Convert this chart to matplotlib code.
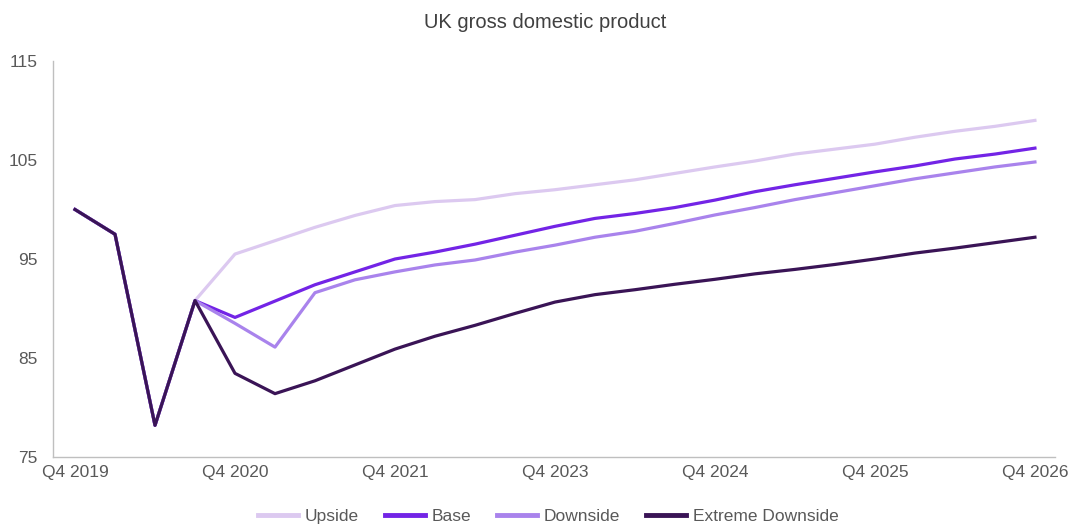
import matplotlib
matplotlib.use("Agg")
import matplotlib.pyplot as plt

plt.rcParams['font.family'] = ['Liberation Sans', 'DejaVu Sans']

# Quarter index positions (Q4 2019 ... forecast horizon), labelled every 4th quarter
tick_labels = ["Q4 2019", "Q4 2020", "Q4 2021", "Q4 2023", "Q4 2024", "Q4 2025", "Q4 2026"]

upside = [100.0, 97.5, 78.2, 90.8, 95.5, 96.85, 98.2, 99.4, 100.4, 100.8, 101.0, 101.6,
          102.0, 102.5, 103.0, 103.65, 104.3, 104.9, 105.6, 106.1, 106.6, 107.3, 107.9, 108.4, 109.0]
base = [100.0, 97.5, 78.2, 90.8, 89.1, 90.75, 92.4, 93.7, 95.0, 95.7, 96.5, 97.4,
        98.3, 99.1, 99.6, 100.2, 100.95, 101.8, 102.5, 103.15, 103.8, 104.4, 105.1, 105.6, 106.2]
downside = [100.0, 97.5, 78.2, 90.8, 88.5, 86.1, 91.6, 92.9, 93.7, 94.4, 94.9, 95.7,
            96.4, 97.2, 97.8, 98.6, 99.45, 100.2, 101.0, 101.7, 102.4, 103.1, 103.7, 104.3, 104.8]
extreme = [100.0, 97.5, 78.2, 90.8, 83.45, 81.4, 82.7, 84.3, 85.9, 87.2, 88.3, 89.5,
           90.65, 91.4, 91.9, 92.45, 92.95, 93.5, 93.95, 94.45, 95.0, 95.6, 96.1, 96.65, 97.2]

series = [("Upside", upside, "#DCC9F0"),
          ("Base", base, "#7324E6"),
          ("Downside", downside, "#A983EC"),
          ("Extreme Downside", extreme, "#3A1456")]

fig = plt.figure(figsize=(10.71, 5.25), dpi=100)
ax = fig.add_axes([0.0495, 0.1295, 0.9355, 0.7543])

x = list(range(len(upside)))
for name, vals, col in series:
    ax.plot(x, vals, color=col, lw=2.3, label=name)

ax.set_xlim(-0.55, len(x) - 0.5)
ax.set_ylim(75, 115)
ax.set_yticks([75, 85, 95, 105, 115])
ax.set_xticks(x[::4])
ax.set_xticklabels(tick_labels)

for s in ["top", "right"]:
    ax.spines[s].set_visible(False)
for s in ["left", "bottom"]:
    ax.spines[s].set_color("#BFBFBF")
    ax.spines[s].set_linewidth(1.0)
ax.tick_params(axis='both', length=0, labelsize=12.5, colors="#595959")
ax.tick_params(axis='y', pad=11)
ax.tick_params(axis='x', pad=6)

fig.text(0.509, 0.958, "UK gross domestic product", ha='center', va='center',
         fontsize=14.5, color="#404040")

leg = fig.legend(loc='center', bbox_to_anchor=(0.512, 0.017), ncol=4, frameon=False,
                 fontsize=12.5, handlelength=2.3, handletextpad=0.4, columnspacing=1.5)
for line in leg.get_lines():
    line.set_linewidth(3.5)
for t in leg.get_texts():
    t.set_color("#595959")

fig.savefig("out.png", dpi=100)
